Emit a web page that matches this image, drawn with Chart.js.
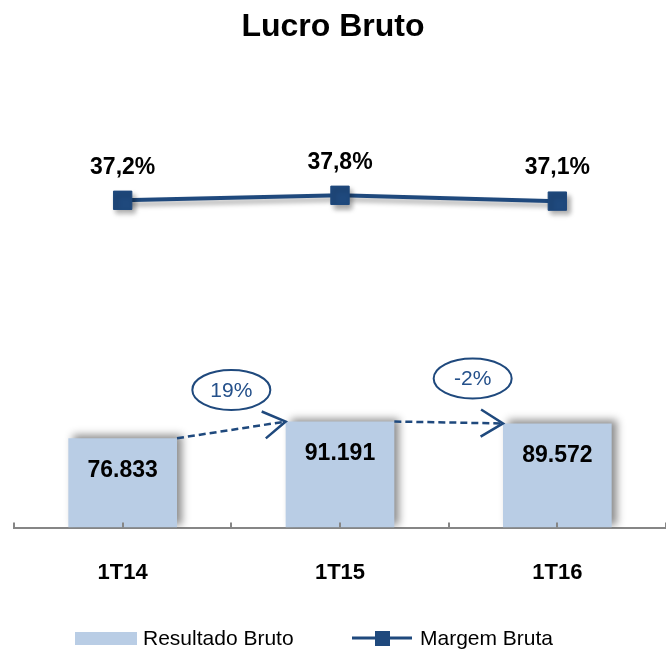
<!DOCTYPE html>
<html>
<head>
<meta charset="utf-8">
<script src="https://cdn.jsdelivr.net/npm/chart.js@4.4.0/dist/chart.umd.min.js"></script>
<style>
  html, body { margin: 0; padding: 0; background: #fff; }
  #wrap { width: 666px; height: 656px; }
</style>
</head>
<body>
<div id="wrap"><canvas id="chart"></canvas></div>
<script>
// dados
const categorias = ['1T14', '1T15', '1T16'];
const resultadoBruto = [76833, 91191, 89572];
const margemBruta = [37.2, 37.8, 37.1];
const crescimento = ['19%', '-2%'];
const nomesSeries = ['Resultado Bruto', 'Margem Bruta'];

const azul = '#1f497d';
const azulClaro = '#b9cde5';
const fonte = '"Liberation Sans", Arial, sans-serif';

function fmtMil(v) {
    return String(v).replace(/\B(?=(\d{3})+(?!\d))/g, '.');
}
function fmtPct(v) {
    return v.toFixed(1).replace('.', ',') + '%';
}

// sombra nas barras e na linha
const sombra = {
    id: 'sombra',
    beforeDatasetDraw(chart, args) {
        const ctx = chart.ctx;
        ctx.save();
        if (args.meta.type === 'bar') {
            ctx.shadowColor = 'rgba(0,0,0,0.45)';
            ctx.shadowBlur = 8;
            ctx.shadowOffsetX = 5;
            ctx.shadowOffsetY = -3;
        } else {
            ctx.shadowColor = 'rgba(0,0,0,0.35)';
            ctx.shadowBlur = 5;
            ctx.shadowOffsetX = 3;
            ctx.shadowOffsetY = 4;
        }
    },
    afterDatasetDraw(chart) {
        chart.ctx.restore();
    }
};

function seta(ctx, x1, y1, x2, y2) {
    ctx.save();
    ctx.strokeStyle = azul;
    ctx.lineWidth = 2.5;
    ctx.setLineDash([7, 4]);
    ctx.beginPath();
    ctx.moveTo(x1, y1);
    ctx.lineTo(x2, y2);
    ctx.stroke();
    ctx.setLineDash([]);
    const ang = Math.atan2(y2 - y1, x2 - x1);
    const L = 26, a = 0.55;
    ctx.beginPath();
    ctx.moveTo(x2 - L * Math.cos(ang - a), y2 - L * Math.sin(ang - a));
    ctx.lineTo(x2, y2);
    ctx.lineTo(x2 - L * Math.cos(ang + a), y2 - L * Math.sin(ang + a));
    ctx.stroke();
    ctx.restore();
}

const extras = {
    id: 'extras',
    afterDatasetsDraw(chart) {
        const ctx = chart.ctx;
        const area = chart.chartArea;
        const barras = chart.getDatasetMeta(0).data;
        const pontos = chart.getDatasetMeta(1).data;

        // marcas do eixo (para cima)
        const passo = (area.right - area.left) / categorias.length;
        ctx.save();
        ctx.strokeStyle = '#868686';
        ctx.lineWidth = 2;
        ctx.beginPath();
        for (let i = 0; i <= categorias.length * 2; i++) {
            const x = Math.round(area.left + i * passo / 2);
            ctx.moveTo(x, area.bottom);
            ctx.lineTo(x, area.bottom - 5);
        }
        ctx.stroke();
        ctx.restore();

        ctx.save();
        ctx.textAlign = 'center';
        ctx.textBaseline = 'middle';
        ctx.fillStyle = '#000';

        // rótulos das barras
        ctx.font = 'bold 23px ' + fonte;
        barras.forEach((b, i) => {
            ctx.fillText(fmtMil(resultadoBruto[i]), b.x, b.y + 32);
        });

        // rótulos da margem
        ctx.font = 'bold 23px ' + fonte;
        pontos.forEach((p, i) => {
            ctx.fillText(fmtPct(margemBruta[i]), p.x, p.y - 33);
        });
        ctx.restore();

        // setas e elipses de crescimento
        const deslocX = [0, 24];
        const deslocY = [-40, -44];
        for (let i = 0; i < barras.length - 1; i++) {
            const a = barras[i], b = barras[i + 1];
            const x1 = a.x + a.width / 2, y1 = a.y;
            const x2 = b.x - b.width / 2, y2 = b.y;
            seta(ctx, x1, y1, x2, y2);
            const cx = (x1 + x2) / 2 + deslocX[i];
            const cy = (y1 + y2) / 2 + deslocY[i];
            ctx.save();
            ctx.strokeStyle = azul;
            ctx.lineWidth = 2;
            ctx.beginPath();
            ctx.ellipse(cx, cy, 39, 20, 0, 0, Math.PI * 2);
            ctx.stroke();
            ctx.fillStyle = '#24508a';
            ctx.font = '21px ' + fonte;
            ctx.textAlign = 'center';
            ctx.textBaseline = 'middle';
            ctx.fillText(crescimento[i], cx, cy + 1);
            ctx.restore();
        }

        // legenda
        ctx.save();
        ctx.fillStyle = azulClaro;
        ctx.fillRect(75, 632, 62, 13);
        ctx.fillStyle = '#000';
        ctx.font = '21px ' + fonte;
        ctx.textBaseline = 'middle';
        ctx.textAlign = 'left';
        ctx.fillText(nomesSeries[0], 143, 639);
        ctx.strokeStyle = azul;
        ctx.lineWidth = 3;
        ctx.beginPath();
        ctx.moveTo(352, 638);
        ctx.lineTo(412, 638);
        ctx.stroke();
        ctx.fillStyle = azul;
        ctx.fillRect(375, 631, 15, 15);
        ctx.fillStyle = '#000';
        ctx.fillText(nomesSeries[1], 420, 639);
        ctx.restore();
    }
};

document.addEventListener('DOMContentLoaded', () => {
    const ctx = document.getElementById('chart').getContext('2d');
    new Chart(ctx, {
        data: {
            labels: categorias,
            datasets: [{
                type: 'bar',
                label: nomesSeries[0],
                data: resultadoBruto,
                backgroundColor: azulClaro,
                borderWidth: 0,
                categoryPercentage: 1,
                barPercentage: 0.5,
                yAxisID: 'y',
                order: 2
            }, {
                type: 'line',
                label: nomesSeries[1],
                data: margemBruta,
                borderColor: azul,
                borderWidth: 4,
                backgroundColor: azul,
                pointStyle: 'rect',
                pointRadius: 13,
                pointBorderWidth: 1,
                pointBorderColor: azul,
                pointBackgroundColor: azul,
                tension: 0,
                yAxisID: 'y1',
                order: 1
            }]
        },
        options: {
            responsive: true,
            maintainAspectRatio: false,
            animation: false,
            layout: { autoPadding: false, padding: { left: 0, right: 0, top: 0, bottom: 38 } },
            plugins: {
                legend: { display: false },
                tooltip: { enabled: false },
                title: {
                    display: true,
                    text: 'Lucro Bruto',
                    color: '#000',
                    font: { family: fonte, size: 32, weight: 'bold' },
                    padding: { top: 8, bottom: 16 }
                }
            },
            scales: {
                x: {
                    offset: true,
                    grid: { display: true, drawOnChartArea: false, drawTicks: false },
                    border: { display: true, color: '#868686', width: 2 },
                    ticks: {
                        color: '#000',
                        padding: 32,
                        font: { family: fonte, size: 22, weight: 'bold' }
                    }
                },
                y: {
                    display: true,
                    min: 0,
                    max: 400000,
                    grid: { display: false },
                    border: { display: false },
                    ticks: { display: false },
                    afterFit(scale) { scale.width = 14; }
                },
                y1: { display: false, min: -2.2, max: 53.8 }
            }
        },
        plugins: [sombra, extras]
    });
});
</script>
</body>
</html>
